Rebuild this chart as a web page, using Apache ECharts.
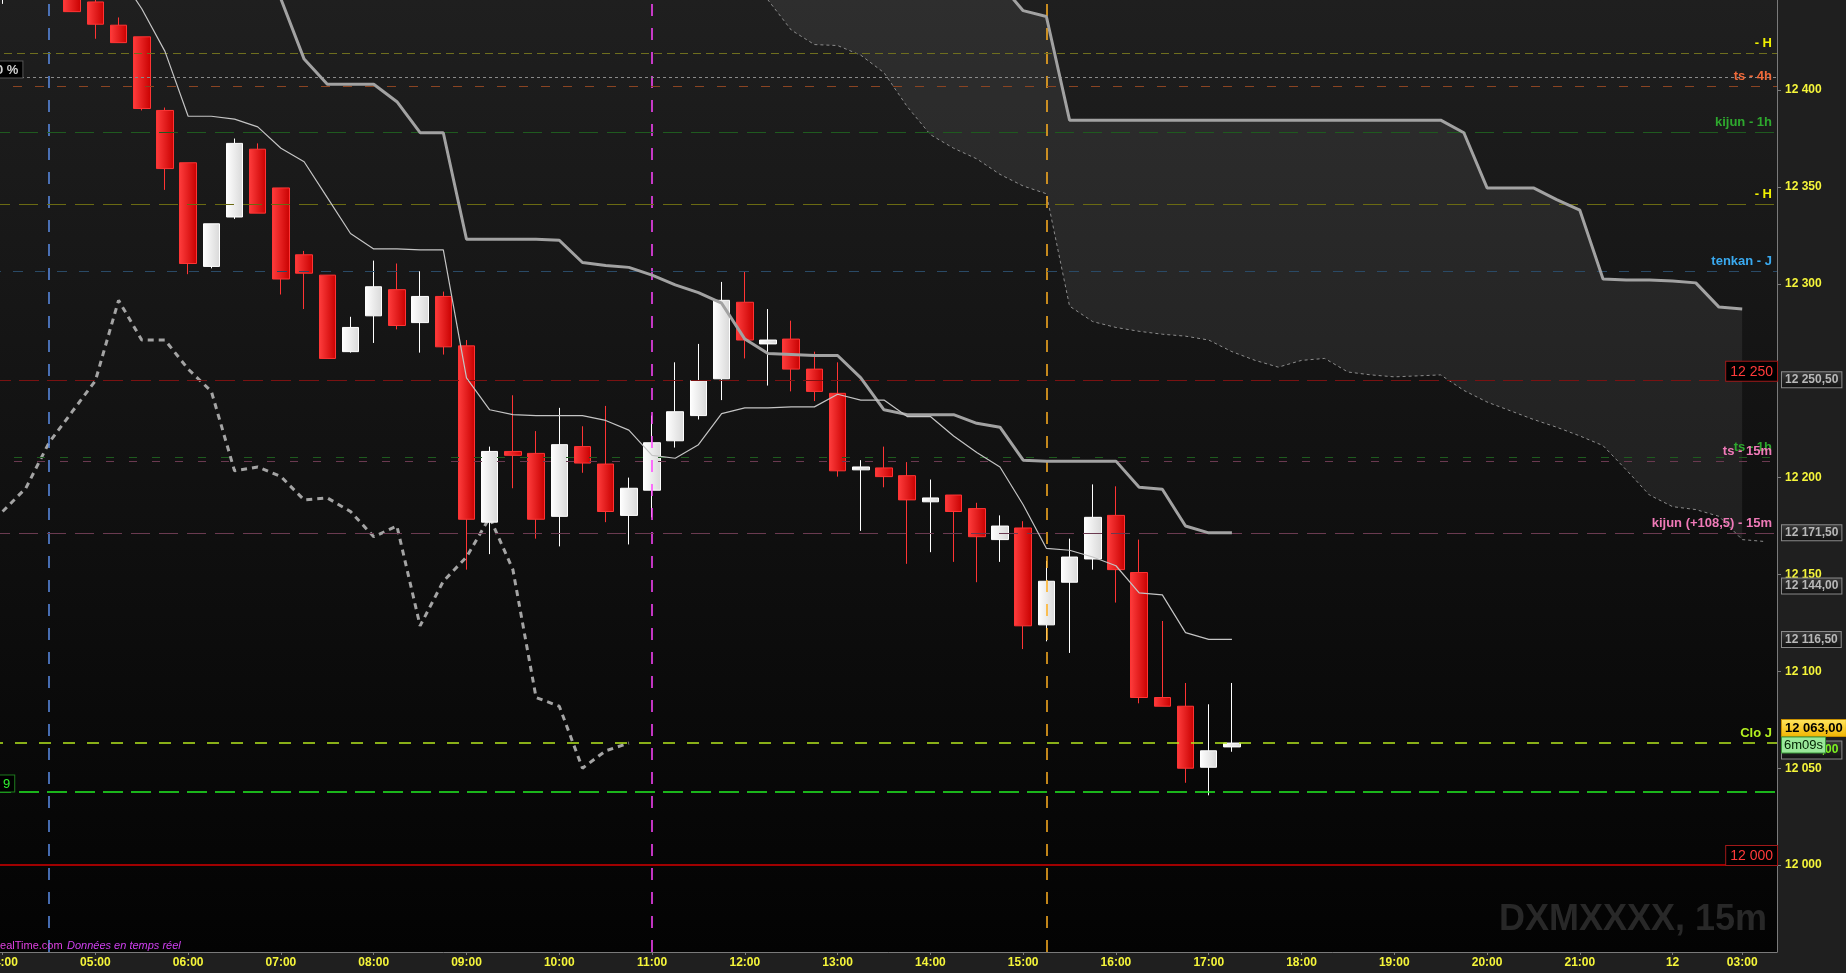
<!DOCTYPE html>
<html>
<head>
<meta charset="utf-8">
<script src="https://cdn.jsdelivr.net/npm/echarts@6/dist/echarts.min.js"></script>
<style>
html,body{margin:0;padding:0;background:#1f1f1f;overflow:hidden}
#c{width:1846px;height:973px}
</style>
</head>
<body>
<div id="c"></div>
<script>
// ---------------- DATA ----------------
const categories = [
'04:00','04:15','04:30','04:45','05:00','05:15','05:30','05:45',
'06:00','06:15','06:30','06:45','07:00','07:15','07:30','07:45',
'08:00','08:15','08:30','08:45','09:00','09:15','09:30','09:45',
'10:00','10:15','10:30','10:45','11:00','11:15','11:30','11:45',
'12:00','12:15','12:30','12:45','13:00','13:15','13:30','13:45',
'14:00','14:15','14:30','14:45','15:00','15:15','15:30','15:45',
'16:00','16:15','16:30','16:45','17:00','17:15','17:30','17:45',
'18:00','18:15','18:30','18:45','19:00','19:15','19:30','19:45',
'20:00','20:15','20:30','20:45','21:00','21:15','21:30','21:45',
'02:15','02:30','02:45','03:00','03:15'];

const xTickSlots  = ['04:00','05:00','06:00','07:00','08:00','09:00','10:00','11:00','12:00','13:00','14:00','15:00','16:00','17:00','18:00','19:00','20:00','21:00','02:15','03:00'];
const xTickLabels = ['04:00','05:00','06:00','07:00','08:00','09:00','10:00','11:00','12:00','13:00','14:00','15:00','16:00','17:00','18:00','19:00','20:00','21:00','12','03:00'];
const yTickValues = [12000,12050,12100,12150,12200,12300,12350,12400];

const candleOpen = [12452,12462,12470,12460, 12445.5,12433.5,12427.5,12389.5, 12362.5,12309,12334.5,12369.5, 12349.5,12315,12304.5,12265, 12283.5,12297,12280,12293.5, 12268,12177,12213.5,12212.5, 12180,12216,12207,12180.5, 12193.5,12219,12232,12251, 12290.5,12269,12271.5,12256, 12243.5,12204,12205,12201, 12187.5,12191,12184,12168, 12174,12124,12146,12158, 12180.5,12151,12086.5,12082, 12050.5,12061];
const candleClose = [12462,12470,12460,12440.5, 12434,12424.5,12390.5,12359.5, 12310.5,12331,12372.5,12336.5, 12302.5,12305.5,12261.5,12277.5, 12298.5,12278.5,12293.5,12267.5, 12178.5,12213.5,12211.5,12178.5, 12217,12207.5,12182.5,12194.5, 12218,12234,12250,12291.5, 12271,12271,12256,12244.5, 12203.5,12205.5,12200.5,12188.5, 12189.5,12182.5,12169.5,12175, 12123.5,12146.5,12159,12179.5, 12152.5,12086.5,12082,12050, 12059,12063];
const candleLow   = [12444.5,12456,12447,12440.5, 12426.5,12424.5,12389.5,12348.5, 12305,12308,12333.5,12336.5, 12294.5,12287,12261.5,12264.5, 12269.5,12276.5,12264.5,12263.5, 12152.5,12160.5,12194.5,12168.5, 12164.5,12202.5,12177,12165.5, 12179.5,12215.5,12230,12240, 12261.5,12247.5,12244.5,12239.5, 12200.5,12172.5,12195,12155.5, 12161.5,12156.5,12146,12156.5, 12111.5,12115.5,12109.5,12152.5, 12135.5,12083.5,12082,12042.5, 12036,12058.5];
const candleHigh  = [12468,12474,12474,12462, 12446.5,12437.5,12427.5,12391, 12362.5,12331,12375,12372.5, 12349.5,12317,12304.5,12283, 12312,12310.5,12306.5,12296, 12271,12216,12242.5,12224, 12236,12226.5,12237,12200, 12232,12259.5,12269,12301, 12306.5,12287,12281,12265, 12259.5,12209,12216,12208, 12199,12191,12187,12180.5, 12177.5,12157,12168.5,12196.5, 12195.5,12168,12126,12094, 12083,12094];

const tenkan = [null,null,null,null,null,
 12460,12442,12420,12386.5,12386.5,12385,12381,12370,12363,12344.5,12326,12318,12318,12317.5,12317.5,
 12251.5,12235,12232.5,12232,12232,12232,12229.5,12224.5,12211.5,12210,12217,12233,12236,12236,12236.5,12236.5,
 12243,12240,12240,12231.5,12231.5,12221.5,12213,12205.5,12186,12163.5,12162.5,12159,12154.5,12140.5,12139.5,12120,12116.5,12116.5,
 null,null,null,null,null,null,null,null,null,null,null,null,null,null,null,null,null,null,null,null,null,null,null];

const kijun = [null,null,null,null,null,null,null,null,null,null,null,
 12462,12447,12416,12403,12403,12403,12394,12378,12378,12323,12323,12323,12323,12322.5,12311,12309.5,12308.5,12304.5,12299.5,12295.5,12290,
 12271.5,12264,12263.5,12263,12263,12251.5,12235,12232.5,12232.5,12232.5,12228,12226,12209,12208.5,12208.5,12208.5,12208.5,12195,12194,12175,12171.5,12171.5,
 null,null,null,null,null,null,null,null,null,null,null,null,null,null,null,null,null,null,null,null,null,null,null];

const chikou = [12182.5,12194.5,12218,12234,12250,12291.5,12271,12271,12256,12244.5,12203.5,12205.5,12200.5,12188.5,
 12189.5,12182.5,12169.5,12175,12123.5,12146.5,12159,12179.5,12152.5,12086.5,12082,12050,12059,12063];

const senkouA = [null,null,null,null,null,null,null,null,null,null,null,null,null,null,null,null,null,null,null,null,null,null,null,null,null,null,null,null,null,null,null,null,
 12470,12470,12470,12470,12470,12470,12470,12470,12470,12470,12470,
 12455,12441,12438,12384.5,12384.5,12384.5,12384.5,12384.5,12384.5,12384.5,12384.5,12384.5,12384.5,12384.5,12384.5,12384.5,12384.5,12384.5,12384.5,12384.5,
 12378,12349.5,12349.5,12349.5,12343.5,12338,12302.5,12302,12302,12301.5,12300.5,12288,12287];

const senkouB = [null,null,null,null,null,null,null,null,null,null,null,null,null,null,null,null,null,null,null,null,null,null,null,null,null,null,null,null,null,null,null,null,
 12465,12446.5,12431,12423.5,12423,12418,12409,12391.5,12377,12370,12364.5,12356.5,12350.5,12346.5,
 12288.5,12280.5,12277.5,12275.5,12274,12273,12271,12265,12260.5,12257,12260.5,12261.5,12254.5,12253,12252,12252.5,12253,
 12245,12239,12234.5,12230,12226,12221.5,12216.5,12204,12191,12185,12183.5,12180,12168,12167];

const levelValues = [12419, 12406.5, 12402, 12378.5, 12341, 12306.5, 12250, 12210.5, 12208.5, 12171.5, 12063, 12038, 12000];
const levelLabels = ['- H', '', 'ts - 4h', 'kijun - 1h', '- H', 'tenkan - J', '12 250', 'ts - 1h', 'ts - 15m', 'kijun (+108,5) - 15m', 'Clo J', '', '12 000'];
const levelLeftLabels = ['', '0 %', '', '', '', '', '', '', '', '', '', '9', ''];

const sessionMarks = ['04:30', '11:00', '15:15'];
const axisMarkValues = [12250.5, 12171.5, 12144, 12116.5];
const lastPrice = 12063;
const countdownText = '6m09s';

// ---------------- STYLES ----------------
const FONT = 'Arial, "Liberation Sans", sans-serif';
const levelStyles = [
  {line:'#6e6e1e', dash:[8,5],  w:1,   txt:'#f0f000'},
  {line:'#8a8a8a', dash:[3,3],  w:1,   txt:'#d0d0d0'},
  {line:'#8a4422', dash:[9,13], w:1,   txt:'#f06a3a'},
  {line:'#1f5a1f', dash:[19,9], w:1,   txt:'#2ea82e'},
  {line:'#6a6a12', dash:[19,9], w:1,   txt:'#f0f000'},
  {line:'#2a4a66', dash:[10,12],w:1,   txt:'#3aaaf0'},
  {line:'#7a1212', dash:[20,8], w:1,   txt:'#ff3a3a', box:true},
  {line:'#1e5a1e', dash:[8,15], w:1,   txt:'#2ea82e'},
  {line:'#6a3a50', dash:[8,15], w:1,   txt:'#f07ab8'},
  {line:'#6a3a50', dash:[19,9], w:1,   txt:'#f07ab8'},
  {line:'#b4e61e', dash:[12,12],w:1.5, txt:'#b4f020'},
  {line:'#22ee22', dash:[20,8], w:1.5, txt:'#30f030'},
  {line:'#a00000', dash:'solid',w:2,   txt:'#ff3a3a', box:true}
];
const sessionStyles = ['#5b8de8', '#ff44ff', '#ffb020'];
const HIDDEN_LINE = {color: 'rgba(0,0,0,0)', width: 0};

function fmtPrice(v, dec) {
  const intPart = Math.floor(v);
  const s = String(intPart).replace(/\B(?=(\d{3})+(?!\d))/g, ' ');
  if (!dec) return s;
  const frac = Math.round((v - intPart) * 100);
  return s + ',' + (frac < 10 ? '0' + frac : String(frac));
}

const grad = (c1, c2, vertical) => ({
  type: 'linear', x: 0, y: 0, x2: vertical ? 0 : 1, y2: vertical ? 1 : 0,
  colorStops: [{offset: 0, color: c1}, {offset: 1, color: c2}]
});

const candleData = candleOpen.map((o, i) => [o, candleClose[i], candleLow[i], candleHigh[i]]);
const chikouData = categories.map((c, i) => i < chikou.length ? chikou[i] : null);
const kumoBand = senkouA.map((a, i) => (a != null && senkouB[i] != null) ? a - senkouB[i] : null);

const tickSet = {};
xTickSlots.forEach((s, k) => { tickSet[s] = xTickLabels[k]; });
const showTick = (idx) => tickSet[categories[idx]] !== undefined;

// level lines
const levelData = levelValues.map((v, i) => {
  const st = levelStyles[i];
  const item = {
    yAxis: v,
    lineStyle: {color: st.line, type: st.dash, width: st.w},
    label: {show: false}
  };
  if (levelLabels[i]) {
    if (st.box) {
      item.label = {
        show: true, position: 'insideEndTop', distance: [0, 0],
        formatter: levelLabels[i], color: st.txt, fontSize: 14, fontFamily: FONT,
        backgroundColor: '#000000', borderColor: '#a01818', borderWidth: 1,
        padding: [3, 4, 2, 4]
      };
    } else {
      item.label = {
        show: true, position: 'insideEndTop', distance: [5, 3],
        formatter: levelLabels[i], color: st.txt, fontSize: 13, fontWeight: 'bold', fontFamily: FONT
      };
    }
  }
  return item;
});
const levelLeftData = levelValues.map((v, i) => levelLeftLabels[i] ? {
  yAxis: v,
  lineStyle: HIDDEN_LINE,
  label: {
    show: true, position: 'insideStartTop', distance: [i === 1 ? 1 : 8, 0],
    formatter: levelLeftLabels[i], color: levelStyles[i].txt, fontSize: 13, fontFamily: FONT,
    fontWeight: i === 1 ? 'bold' : 'normal',
    backgroundColor: '#000', borderColor: i === 1 ? '#555' : '#1e7a1e', borderWidth: 1, padding: [2, 4, 1, 4]
  }
} : null).filter(Boolean);

const sessionData = sessionMarks.map((m, i) => ({
  xAxis: m,
  lineStyle: {color: sessionStyles[i], type: [12, 12], width: 1.5},
  label: {show: false}
}));

const boxLabel = (extra) => Object.assign({
  show: true, position: 'end', distance: 5,
  color: '#b8b8b8', fontSize: 12, fontWeight: 'bold', fontFamily: FONT,
  backgroundColor: grad('#3a3a3a', '#101010', true), borderColor: '#8a8a8a', borderWidth: 1,
  padding: [2, 3, 1, 3]
}, extra);

const axisBoxData = axisMarkValues.map(v => ({
  yAxis: v, lineStyle: HIDDEN_LINE,
  label: boxLabel({formatter: fmtPrice(v, true)})
}));

const option = {
  animation: false,
  backgroundColor: '#1f1f1f',
  grid: {
    left: -9, right: 69, top: 0, bottom: 21,
    outerBoundsMode: 'none', containLabel: false,
    show: true, borderWidth: 0,
    backgroundColor: grad('#1f1f1f', '#030303', true)
  },
  xAxis: {
    type: 'category', data: categories, boundaryGap: true,
    axisLine: {lineStyle: {color: '#7a7a7a', width: 1}},
    axisTick: {show: true, interval: showTick, alignWithLabel: true, length: 3, lineStyle: {color: '#7a7a7a'}},
    axisLabel: {
      interval: showTick, showMinLabel: true, showMaxLabel: true, hideOverlap: false,
      formatter: (val) => tickSet[val] !== undefined ? tickSet[val] : '',
      color: '#f5f53a', fontWeight: 'bold', fontSize: 12, fontFamily: FONT, margin: 5
    },
    splitLine: {show: false}
  },
  yAxis: {
    type: 'value', position: 'right', min: 11955.15, max: 12446.5,
    axisLine: {show: true, lineStyle: {color: '#7a7a7a'}},
    axisTick: {show: true, customValues: yTickValues, length: 4, lineStyle: {color: '#7a7a7a'}},
    axisLabel: {
      customValues: yTickValues, formatter: (v) => fmtPrice(v, false),
      color: '#f5f53a', fontWeight: 'bold', fontSize: 12, fontFamily: FONT, margin: 8
    },
    splitLine: {show: false}
  },
  series: [
    {
      name: 'senkouB', type: 'line', data: senkouB, stack: 'kumo', symbol: 'none', z: 1,
      lineStyle: {color: '#8c8c8c', width: 1, type: [3, 3]}
    },
    {
      name: 'kumo', type: 'line', data: kumoBand, stack: 'kumo', symbol: 'none', z: 1,
      lineStyle: {width: 0, opacity: 0},
      areaStyle: {color: 'rgba(255,255,255,0.1)'}
    },
    {
      name: 'sessions', type: 'line', data: [], z: 2,
      markLine: {silent: true, symbol: ['none', 'none'], animation: false, data: sessionData}
    },
    {
      name: 'chikou', type: 'line', data: chikouData, symbol: 'none', z: 3,
      lineStyle: {color: '#a4a4a4', width: 3, type: [6, 5]}
    },
    {
      name: 'candles', type: 'candlestick', data: candleData, barWidth: 17, z: 4,
      itemStyle: {
        color: grad('#ffffff', '#d8d8d8', false),
        color0: grad('#ff3d3d', '#c80000', false),
        borderColor: '#ffffff', borderColor0: '#ff3434', borderWidth: 1
      }
    },
    {
      name: 'senkouA', type: 'line', data: senkouA, symbol: 'none', z: 5,
      lineStyle: {color: '#a2a2a2', width: 3}
    },
    {
      name: 'kijun', type: 'line', data: kijun, symbol: 'none', z: 5,
      lineStyle: {color: '#a2a2a2', width: 3}
    },
    {
      name: 'tenkan', type: 'line', data: tenkan, symbol: 'none', z: 5,
      lineStyle: {color: '#c4c4c4', width: 1.2}
    },
    {
      name: 'levels', type: 'line', data: [], z: 6,
      markLine: {silent: true, symbol: ['none', 'none'], animation: false, data: levelData}
    },
    {
      name: 'levelsLeft', type: 'line', data: [], z: 6, clip: false,
      markLine: {silent: true, symbol: ['none', 'none'], animation: false, data: levelLeftData}
    },
    {
      name: 'axisBoxes', type: 'line', data: [], z: 7, clip: false,
      markLine: {silent: true, symbol: ['none', 'none'], animation: false, data: axisBoxData.concat([
        {yAxis: lastPrice, lineStyle: HIDDEN_LINE,
         label: boxLabel({formatter: fmtPrice(lastPrice, true), color: '#7cf020', offset: [0, 7], padding: [3, 3, 2, 3]})}
      ])}
    },
    {
      name: 'lastPrice', type: 'line', data: [], z: 8, clip: false,
      markLine: {silent: true, symbol: ['none', 'none'], animation: false, data: [
        {yAxis: lastPrice, lineStyle: HIDDEN_LINE,
         label: boxLabel({formatter: fmtPrice(lastPrice, true), color: '#000000', fontSize: 13,
           backgroundColor: grad('#ffe660', '#f0b400', true), borderColor: '#c89000', offset: [0, -15], padding: [2, 3, 1, 3]})}
      ]}
    },
    {
      name: 'countdown', type: 'line', data: [], z: 9, clip: false,
      markLine: {silent: true, symbol: ['none', 'none'], animation: false, data: [
        {yAxis: lastPrice, lineStyle: HIDDEN_LINE,
         label: boxLabel({formatter: countdownText, color: '#002000', fontSize: 13, fontWeight: 'normal',
           backgroundColor: '#9ae89a', borderColor: '#3a9a3a', offset: [0, 2], padding: [1, 2, 1, 2]})}
      ]}
    }
  ],
  graphic: [
    {type: 'text', x: 1767, y: 938, z: 1, silent: true,
     style: {text: 'DXMXXXX, 15m', fill: '#282828', font: 'bold 36px ' + FONT, textAlign: 'right', textVerticalAlign: 'bottom'}},
    {type: 'text', x: -25, y: 951, z: 10, silent: true,
     style: {text: 'ProRealTime.com', fill: '#e040e0', font: '11px ' + FONT, textAlign: 'left', textVerticalAlign: 'bottom'}},
    {type: 'text', x: 67, y: 951, z: 10, silent: true,
     style: {text: 'Données en temps réel', fill: '#d040f0', font: 'italic 11px ' + FONT, textAlign: 'left', textVerticalAlign: 'bottom'}}
  ]
};

const chart = echarts.init(document.getElementById('c'), null, {width: 1846, height: 973});
chart.setOption(option);
</script>
</body>
</html>
